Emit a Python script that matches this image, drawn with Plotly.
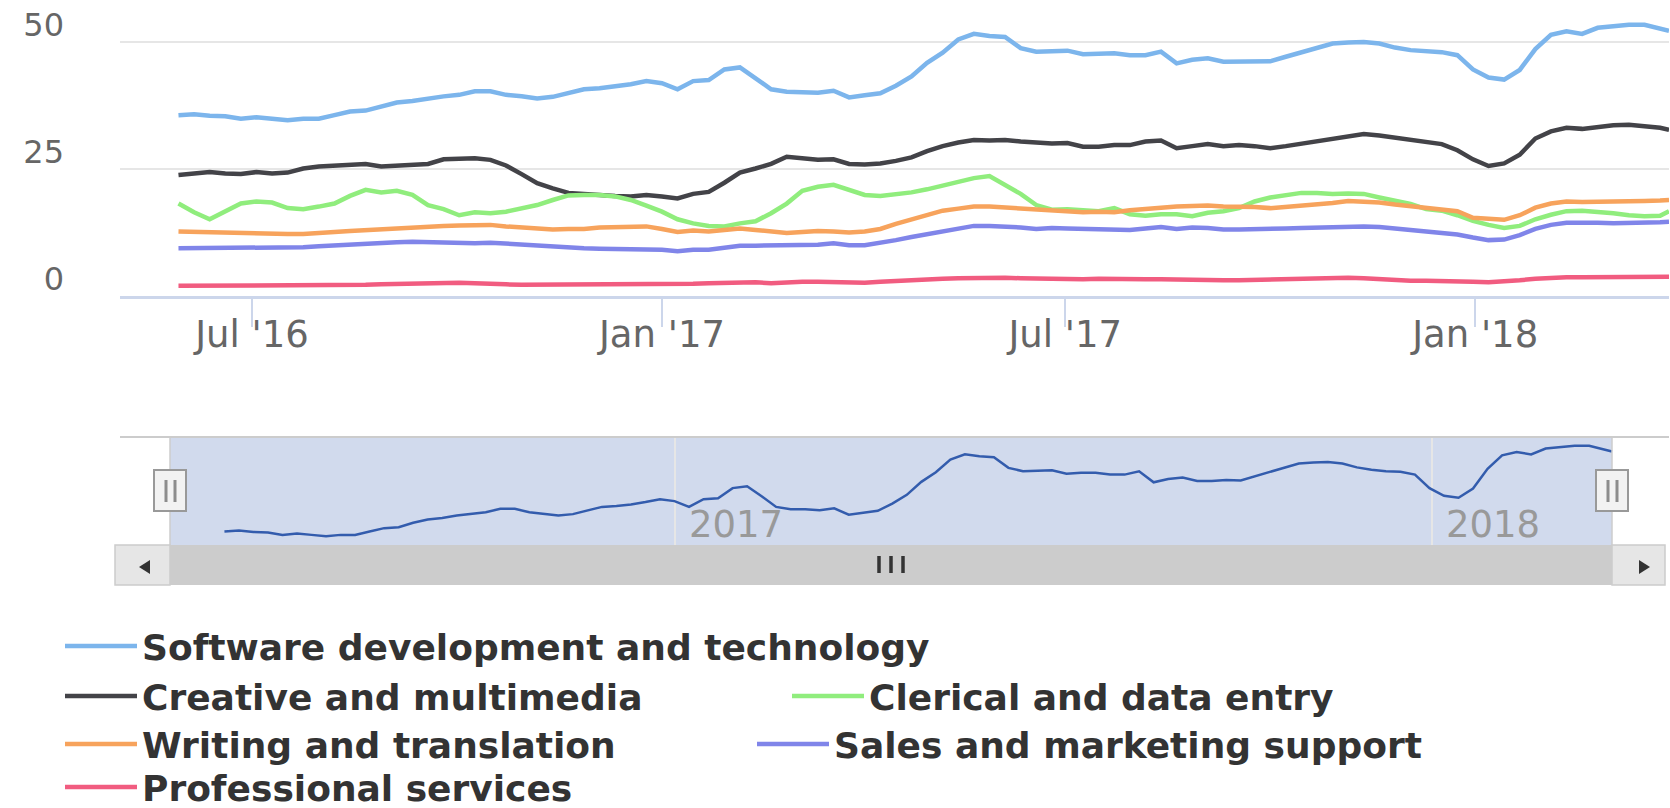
import pandas as pd
import plotly.graph_objects as go

# ---------------- data ----------------
dates = list(pd.date_range("2016-05-29", periods=96, freq="7D")) + [pd.Timestamp("2018-03-29")]

software = [35.6, 35.8, 35.5, 35.4, 34.9, 35.2, 34.9, 34.6, 34.9, 34.9,
            35.6, 36.3, 36.5, 37.4, 38.1, 38.4, 38.9, 39.3, 39.6, 40.3,
            40.3, 39.6, 39.3, 38.9, 39.2, 40.0, 40.7, 40.9, 41.2, 41.7,
            42.3, 41.9, 40.7, 42.3, 42.5, 44.6, 45.0, 42.9, 40.7, 40.2,
            40.2, 40.0, 40.4, 39.1, 39.5, 39.9, 41.4, 43.2, 45.9, 47.9,
            50.5, 51.6, 51.2, 51.0, 48.8, 48.1, 48.2, 48.3, 47.6, 47.8,
            47.8, 47.4, 47.4, 48.1, 45.8, 46.5, 46.8, 46.1, 46.1, 46.3,
            46.2, 47.1, 48.0, 48.8, 49.7, 49.9, 50.0, 49.7, 48.9, 48.4,
            48.1, 48.0, 47.4, 44.6, 43.0, 42.6, 44.5, 48.6, 51.4, 52.1,
            51.6, 52.8, 53.1, 53.4, 53.4, 52.7, 52.2]

creative = [23.8, 24.1, 24.4, 24.1, 24.0, 24.4, 24.1, 24.3, 25.1, 25.5,
            25.7, 26.0, 26.0, 25.5, 25.6, 25.9, 26.0, 26.9, 27.1, 27.1,
            26.8, 25.7, 24.0, 22.2, 21.2, 20.3, 20.1, 19.8, 19.7, 19.6,
            19.9, 19.6, 19.2, 20.1, 20.5, 22.3, 24.3, 25.1, 26.0, 27.4,
            27.0, 26.8, 26.9, 26.0, 25.9, 26.1, 26.6, 27.3, 28.5, 29.5,
            30.2, 30.7, 30.6, 30.7, 30.4, 30.2, 30.0, 30.1, 29.4, 29.4,
            29.7, 29.7, 30.4, 30.6, 29.1, 29.5, 29.9, 29.5, 29.7, 29.5,
            29.1, 29.5, 30.0, 30.4, 31.0, 31.5, 31.9, 31.6, 31.2, 30.8,
            30.4, 29.9, 28.7, 26.9, 25.6, 26.1, 27.8, 31.0, 32.4, 33.1,
            32.9, 33.3, 33.6, 33.7, 33.5, 33.1, 32.7]

clerical = [18.2, 16.5, 15.1, 16.6, 18.2, 18.6, 18.4, 17.3, 17.1, 17.6,
            18.2, 19.7, 20.9, 20.4, 20.7, 19.9, 17.9, 17.1, 15.9, 16.5,
            16.3, 16.6, 17.3, 17.9, 18.9, 19.8, 19.9, 19.9, 19.6, 18.9,
            17.8, 16.6, 15.1, 14.3, 13.8, 13.7, 14.3, 14.7, 16.3, 18.2,
            20.7, 21.5, 21.9, 21.0, 19.9, 19.7, 20.0, 20.4, 21.0, 21.8,
            22.4, 23.2, 23.6, 21.9, 20.1, 17.9, 17.0, 17.1, 16.8, 16.7,
            17.3, 16.1, 15.8, 16.1, 16.1, 15.7, 16.4, 16.7, 17.3, 18.6,
            19.4, 19.8, 20.3, 20.3, 20.1, 20.2, 20.1, 19.4, 18.8, 18.1,
            17.1, 16.8, 15.9, 14.8, 14.0, 13.4, 13.8, 15.1, 16.0, 16.7,
            16.8, 16.6, 16.3, 15.9, 15.7, 15.8, 16.7]

writing = [12.7, 12.6, 12.6, 12.5, 12.4, 12.3, 12.3, 12.2, 12.2, 12.5,
           12.6, 12.8, 13.0, 13.2, 13.4, 13.5, 13.6, 13.8, 13.9, 14.0,
           14.0, 13.7, 13.5, 13.2, 13.1, 13.2, 13.2, 13.5, 13.5, 13.6,
           13.7, 13.2, 12.6, 12.9, 12.7, 13.0, 13.3, 13.0, 12.6, 12.4,
           12.6, 12.8, 12.7, 12.5, 12.7, 13.2, 14.2, 15.1, 16.1, 16.8,
           17.2, 17.6, 17.6, 17.4, 17.2, 16.9, 16.7, 16.6, 16.5, 16.6,
           16.5, 16.9, 17.2, 17.5, 17.6, 17.7, 17.8, 17.6, 17.6, 17.5,
           17.3, 17.5, 17.7, 17.9, 18.3, 18.7, 18.6, 18.4, 18.0, 17.7,
           17.5, 17.2, 16.7, 15.4, 15.1, 15.0, 15.9, 17.4, 18.2, 18.6,
           18.5, 18.5, 18.6, 18.7, 18.7, 18.8, 18.9]

sales = [9.4, 9.4, 9.4, 9.4, 9.5, 9.6, 9.5, 9.4, 9.6, 9.8,
         10.0, 10.2, 10.3, 10.5, 10.6, 10.7, 10.6, 10.5, 10.4, 10.4,
         10.5, 10.3, 10.1, 9.8, 9.7, 9.5, 9.4, 9.3, 9.3, 9.2,
         9.3, 9.1, 8.8, 9.1, 9.1, 9.6, 9.9, 9.9, 9.9, 10.1,
         10.1, 10.1, 10.4, 10.0, 10.0, 10.4, 11.0, 11.6, 12.2, 12.8,
         13.3, 13.8, 13.8, 13.7, 13.5, 13.2, 13.4, 13.3, 13.2, 13.1,
         13.2, 13.0, 13.3, 13.6, 13.2, 13.5, 13.4, 13.1, 13.1, 13.1,
         13.2, 13.3, 13.4, 13.5, 13.6, 13.7, 13.7, 13.6, 13.3, 13.0,
         12.8, 12.5, 12.1, 11.5, 11.0, 11.1, 12.0, 13.2, 14.0, 14.4,
         14.5, 14.4, 14.3, 14.3, 14.4, 14.5, 14.6]

professional = [2.0, 2.0, 2.0, 2.1, 2.1, 2.1, 2.1, 2.1, 2.1, 2.1,
                2.1, 2.2, 2.2, 2.3, 2.4, 2.5, 2.6, 2.6, 2.6, 2.5,
                2.5, 2.3, 2.2, 2.2, 2.2, 2.2, 2.2, 2.2, 2.3, 2.3,
                2.4, 2.3, 2.2, 2.4, 2.5, 2.6, 2.8, 2.7, 2.5, 2.7,
                2.8, 2.8, 2.7, 2.6, 2.6, 2.8, 3.0, 3.1, 3.3, 3.4,
                3.5, 3.6, 3.7, 3.6, 3.5, 3.4, 3.4, 3.3, 3.3, 3.4,
                3.3, 3.3, 3.3, 3.3, 3.2, 3.2, 3.2, 3.1, 3.1, 3.2,
                3.3, 3.3, 3.4, 3.5, 3.6, 3.6, 3.5, 3.3, 3.1, 3.0,
                3.0, 3.0, 2.9, 2.8, 2.7, 2.8, 3.1, 3.4, 3.6, 3.7,
                3.7, 3.7, 3.7, 3.7, 3.8, 3.8, 3.8]

series_names = ["Software development and technology", "Creative and multimedia",
                "Clerical and data entry", "Writing and translation",
                "Sales and marketing support", "Professional services"]
series_values = [software, creative, clerical, writing, sales, professional]

y_ticks = [0, 25, 50]
x_tick_dates = ["2016-07-01", "2017-01-01", "2017-07-01", "2018-01-01"]
x_tick_labels = ["Jul '16", "Jan '17", "Jul '17", "Jan '18"]
nav_tick_dates = ["2017-01-01", "2018-01-01"]
nav_tick_labels = ["2017", "2018"]

for v in series_values:
    assert len(v) == len(dates)

# ---------------- styling / geometry ----------------
W, H = 1670, 808
colors = ["#7cb5ec", "#434348", "#90ed7d", "#f7a35c", "#8085e9", "#f15c80"]
FONT = "DejaVu Sans"


def px(x):
    return x / W


def py(y):
    return 1 - y / H


PLOT_L, PLOT_R = 120, 1669
MAIN_T, MAIN_B = 5, 296
PX_PER_UNIT = 5.08
NAV_T, NAV_B = 437, 545
SCR_T, SCR_B = 545, 585
MASK_L, MASK_R = 170, 1612

ref_day = pd.Timestamp("2016-07-01")
ref_px = 252
px_per_day = 2.228
x_lo = ref_day + pd.Timedelta(days=(PLOT_L - ref_px) / px_per_day)
x_hi = ref_day + pd.Timedelta(days=(PLOT_R - ref_px) / px_per_day)
span_days = (x_hi - x_lo) / pd.Timedelta(days=1)
nav_ppd = (MASK_R - MASK_L) / span_days
nav_lo = x_lo - pd.Timedelta(days=(MASK_L - PLOT_L) / nav_ppd)
nav_hi = x_hi + pd.Timedelta(days=(PLOT_R - MASK_R) / nav_ppd)
nav_mid = x_lo + (x_hi - x_lo) / 2

y_max = (MAIN_B - MAIN_T) / PX_PER_UNIT

fig = go.Figure()

legend_ids = ["legend", "legend2", "legend3", "legend4", "legend5", "legend6"]
legend_pos = [(66, 646), (66, 696), (793, 696), (66, 744), (758, 744), (66, 787)]
LEG_ITEMW = 72

for name, vals, col, lid in zip(series_names, series_values, colors, legend_ids):
    fig.add_trace(go.Scatter(
        x=dates, y=vals, name=name, mode="lines",
        line=dict(color=col, width=4.5),
        legend=lid, xaxis="x", yaxis="y", hoverinfo="skip"))

# navigator series
fig.add_trace(go.Scatter(
    x=dates, y=software, mode="lines", showlegend=False,
    line=dict(color="#335cad", width=2.5), xaxis="x2", yaxis="y2",
    hoverinfo="skip"))

shapes = []
# navigator mask
shapes.append(dict(type="rect", xref="x2", yref="paper", x0=x_lo, x1=x_hi,
                   y0=py(NAV_B), y1=py(NAV_T), fillcolor="rgba(102,133,194,0.3)",
                   line=dict(width=0), layer="between"))
# navigator outline
shapes.append(dict(type="line", xref="paper", yref="paper", x0=px(PLOT_L), x1=px(PLOT_R),
                   y0=py(NAV_T), y1=py(NAV_T), line=dict(color="#cccccc", width=2)))
for xe in (x_lo, x_hi):
    shapes.append(dict(type="line", xref="x2", yref="paper", x0=xe, x1=xe,
                       y0=py(NAV_B), y1=py(NAV_T), line=dict(color="#cccccc", width=1.5)))
# scrollbar track and thumb
shapes.append(dict(type="rect", xref="paper", yref="paper", x0=px(115), x1=px(1665),
                   y0=py(SCR_B), y1=py(SCR_T), fillcolor="#f2f2f2", line=dict(width=0)))
shapes.append(dict(type="rect", xref="x2", yref="paper", x0=x_lo, x1=x_hi,
                   y0=py(SCR_B), y1=py(SCR_T), fillcolor="#cccccc", line=dict(width=0)))
# scrollbar buttons
for bx0, bx1 in ((115, MASK_L), (MASK_R, 1665)):
    shapes.append(dict(type="rect", xref="paper", yref="paper", x0=px(bx0), x1=px(bx1),
                       y0=py(SCR_B), y1=py(SCR_T), fillcolor="#e6e6e6",
                       line=dict(color="#cccccc", width=1.5)))
# arrows
shapes.append(dict(type="path", xref="paper", yref="paper",
                   path=f"M {px(139)},{py(567)} L {px(150)},{py(560)} L {px(150)},{py(574)} Z",
                   fillcolor="#333333", line=dict(width=0)))
shapes.append(dict(type="path", xref="paper", yref="paper",
                   path=f"M {px(1650)},{py(567)} L {px(1639)},{py(560)} L {px(1639)},{py(574)} Z",
                   fillcolor="#333333", line=dict(width=0)))
# grip
for off in (-12, 0, 12):
    shapes.append(dict(type="line", xref="x2", yref="paper", xsizemode="pixel", xanchor=nav_mid,
                       x0=off, x1=off, y0=py(573), y1=py(556),
                       line=dict(color="#333333", width=3.5)))
# handles
for xe in (x_lo, x_hi):
    shapes.append(dict(type="rect", xref="x2", yref="paper", xsizemode="pixel", xanchor=xe,
                       x0=-16, x1=16, y0=py(511), y1=py(470), fillcolor="#f2f2f2",
                       line=dict(color="#999999", width=2)))
    for off in (-4, 5):
        shapes.append(dict(type="line", xref="x2", yref="paper", xsizemode="pixel", xanchor=xe,
                           x0=off, x1=off, y0=py(502), y1=py(480),
                           line=dict(color="#8c8c8c", width=3)))

annotations = []
for d, lab in zip(nav_tick_dates, nav_tick_labels):
    annotations.append(dict(x=d, xref="x2", y=py(524), yref="paper", text=lab,
                            showarrow=False, xanchor="left", yanchor="middle", xshift=12,
                            font=dict(family=FONT, size=37, color="#999999")))

layout = dict(
    width=W, height=H, margin=dict(l=0, r=0, t=0, b=0, autoexpand=False),
    paper_bgcolor="white", plot_bgcolor="white", hovermode=False,
    xaxis=dict(domain=[px(PLOT_L), px(PLOT_R)], range=[x_lo, x_hi], anchor="y",
               tickvals=x_tick_dates, ticktext=x_tick_labels, showgrid=False,
               showline=True, linecolor="#ccd6eb", linewidth=2.5,
               ticks="outside", ticklen=28, tickwidth=2.5, tickcolor="#ccd6eb",
               ticklabelstandoff=-24,
               tickfont=dict(family=FONT, size=37, color="#666666"), zeroline=False),
    yaxis=dict(domain=[py(MAIN_B), py(MAIN_T)], range=[0, y_max], anchor="x",
               tickvals=y_ticks, showgrid=True, gridcolor="#e6e6e6", gridwidth=2.5,
               zeroline=False, showline=False, ticks="",
               ticklabelstandoff=55, ticklabelshift=-17,
               tickfont=dict(family=FONT, size=32, color="#666666")),
    xaxis2=dict(domain=[px(PLOT_L), px(PLOT_R)], range=[nav_lo, nav_hi], anchor="y2",
                tickvals=nav_tick_dates, showticklabels=False, showgrid=True,
                gridcolor="#e6e6e6", gridwidth=2, showline=False, zeroline=False, ticks=""),
    yaxis2=dict(domain=[py(NAV_B), py(NAV_T)], range=[32.8, 55.2], anchor="x2",
                showgrid=False, showticklabels=False, zeroline=False, showline=False, ticks=""),
    shapes=shapes, annotations=annotations,
)

for lid, (lx, ly) in zip(legend_ids, legend_pos):
    layout[lid] = dict(x=px(lx - 6), y=py(ly), xanchor="left", yanchor="middle",
                       orientation="h", bgcolor="rgba(0,0,0,0)", borderwidth=0,
                       itemwidth=LEG_ITEMW,
                       font=dict(family=FONT, size=36, color="#333333", weight="bold"))

fig.update_layout(**layout)
fig.write_html("out.html", config={"displayModeBar": False, "staticPlot": True},
               post_script="document.body.style.margin='0';document.body.style.overflow='hidden';")
